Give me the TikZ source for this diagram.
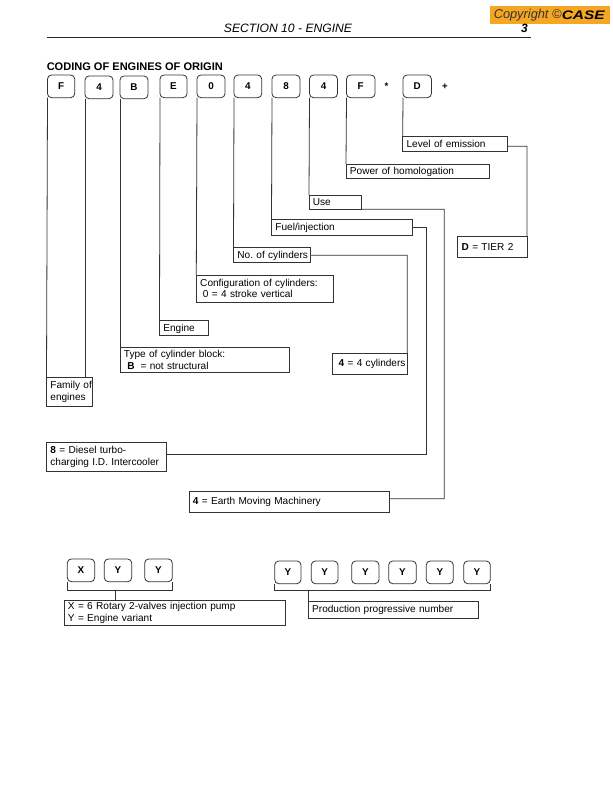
\documentclass[tikz,border=0pt]{standalone}
\usepackage{fontspec}
\setmainfont{Liberation Sans}
\usetikzlibrary{calc}
\frenchspacing
\newcommand{\lab}[7][labelbox]{%
  \node[#1,anchor=north west,minimum width={(#5-#3)*0.75pt},minimum height={(#6-#4)*0.75pt},text width={(#5-#3)*0.75pt-2*\labxsep}] (#2) at (#3,#4) {#7};}
\newcommand{\code}[5]{%
  \node[codebox,anchor=north west,minimum width={(#4-#3)*0.75pt},minimum height=17pt] (#1) at (#3,#2) {#5};}
\newcommand{\labxsep}{2.95pt}
\tikzset{
  x=0.75pt,y=-0.75pt,
  rule/.style={draw=black!80,line width=0.6pt},
  labelbox/.style={rule,inner xsep=\labxsep,inner ysep=0pt,outer sep=0pt,align=left,font=\fontsize{7.55}{8.7}\selectfont},
  lowtext/.style={labelbox,text depth=0.3pt},
  codebox/.style={rule,rounded corners=3pt,inner sep=0pt,outer sep=0pt,align=center,font=\fontsize{7.4}{8.7}\selectfont\bfseries},
  wire/.style={rule},
  mark text/.style={inner sep=0pt,font=\fontsize{7.2}{8.7}\selectfont\bfseries}
}
\begin{document}
\begin{tikzpicture}
\useasboundingbox (0,0) rectangle (613,792);
% header
\node[fill={rgb,255:red,245;green,166;blue,35},minimum width=90pt,minimum height=13.5pt,inner sep=0pt,anchor=north west] (badge) at (489.5,6) {};
\node[anchor=west,inner sep=0pt,font=\fontsize{9.6}{11}\selectfont\itshape,text=black!80] (copy) at (493.5,15) {Copyright ©};
\node[anchor=west,inner sep=0pt,font=\fontsize{9.3}{11}\selectfont\bfseries\itshape] (case) at (561.5,15.5) {\scalebox{1.25}[1]{CASE}};
\node[inner sep=0pt,font=\fontsize{9.1}{11}\selectfont\itshape] (section) at (288,28) {SECTION 10 - ENGINE};
\node[inner sep=0pt,font=\fontsize{9}{11}\selectfont\bfseries\itshape] (page) at (524.5,28.5) {3};
\coordinate (ruleL) at (47,37.5);
\coordinate (ruleR) at (530.5,37.5);
\draw[draw=black!85,line width=0.8pt] (ruleL) -- (ruleR);
\node[anchor=west,inner sep=0pt,font=\fontsize{8.28}{10}\selectfont\bfseries] (title) at (46.5,67) {CODING OF ENGINES OF ORIGIN};
% top code row
\code{cF}{75}{47.5}{74.7}{F}
\code{cA}{76}{85}{113}{4}
\code{cB}{76}{120}{148}{B}
\code{cE}{75}{160}{187}{E}
\code{cZ}{75}{197}{225}{0}
\code{cC}{75}{234}{261.7}{4}
\code{cH}{75}{272}{300}{8}
\code{cU}{75}{309.5}{337.5}{4}
\code{cP}{75}{346.5}{375}{F}
\code{cD}{75}{403}{431.4}{D}
\node[mark text] (star) at (386.6,86) {*};
\node[mark text] (plus) at (445,87) {+};
% labels
\lab{level}{402.7}{136}{507.3}{151.7}{Level of emission}
\lab[lowtext]{power}{346}{164}{489.3}{178.7}{Power of homologation}
\lab{use}{309}{195}{361.7}{209.3}{Use}
\lab[lowtext]{fuel}{271.5}{219.3}{412.7}{235.3}{Fuel/injection}
\lab[lowtext]{cyl}{233.5}{247.3}{310}{262.7}{\mbox{No. of cylinders}}
\lab{config}{196.3}{275}{333.7}{302}{Configuration of cylinders:\\[-0.4pt]\hspace*{2pt}0 = 4 stroke vertical}
\lab[lowtext]{engine}{159.5}{320.5}{208.3}{335.7}{Engine}
\lab{type}{120}{347}{289.3}{372.3}{Type of cylinder block:\\\hspace*{2.5pt}\textbf{B}\hspace{2pt} = not structural}
\lab{family}{46.5}{377.3}{92.3}{406.3}{\mbox{Family of}\\engines}
\lab{turbo}{46.5}{442.3}{166.7}{471.3}{\textbf{8} = Diesel turbo-\\charging I.D. Intercooler}
\lab{earth}{189}{491.7}{389}{512.3}{\textbf{4} = Earth Moving Machinery}
\lab{fourcyl}{332}{353.7}{407.3}{374.7}{\mbox{\hspace*{2pt}\textbf{4} = 4 cylinders}}
\lab{tier}{457.7}{236.7}{527}{257}{\textbf{D} = TIER 2}
% drops
\draw[wire] (cF.south west) -- (family.north west);
\draw[wire] (cA.south west) -- (cA.south west |- family.north);
\draw[wire] (cB.south west) -- (type.north west);
\draw[wire] (cE.south west) -- (engine.north west);
\draw[wire] (cZ.south west) -- (config.north west);
\draw[wire] (cC.south west) -- (cyl.north west);
\draw[wire] (cH.south west) -- (fuel.north west);
\draw[wire] (cU.south west) -- (use.north west);
\draw[wire] (cP.south west) -- (power.north west);
\draw[wire] (cD.south west) -- (level.north west);
% elbow connectors
\coordinate (levelTurn) at (527,146.3);
\coordinate (useTurn) at (444.3,209.3);
\coordinate (fuelTurn) at (426,227.3);
\coordinate (cylTurn) at (407.3,255.3);
\coordinate (turboIn) at ($(turbo.east)+(0,-2.5)$);
\coordinate (earthIn) at ($(earth.east)+(0,-3.3)$);
\draw[wire] (levelTurn -| level.east) -- (levelTurn) -- (tier.north east);
\draw[wire] (use.south east) -- (useTurn) -- (useTurn |- earthIn) -- (earthIn);
\draw[wire] (fuelTurn -| fuel.east) -- (fuelTurn) -- (fuelTurn |- turboIn) -- (turboIn);
\draw[wire] (cylTurn -| cyl.east) -- (cylTurn) -- (fourcyl.north east);
% lower groups
\code{lX}{559}{67.3}{94.7}{X}
\code{lY}{559}{104.3}{131.7}{Y}
\code{lZ}{559}{144.7}{172.3}{Y}
\code{rA}{561}{274.7}{301}{Y}
\code{rB}{561}{311.3}{338}{Y}
\code{rC}{561}{351.7}{379}{Y}
\code{rD}{561}{388.7}{416.3}{Y}
\code{rE}{561}{426.3}{453.3}{Y}
\code{rF}{561}{463.7}{490.3}{Y}
\lab{pump}{64}{600.3}{285.7}{625.3}{X = 6 Rotary 2-valves injection pump\\Y = Engine variant}
\lab{prod}{308.3}{601}{478}{618}{Production progressive number}
\coordinate (brL) at (115.7,590.7);
\coordinate (brR) at (308.3,590.7);
\draw[wire] (lX.south west) -- (lX.west |- brL) -- (lZ.east |- brL) -- (lZ.south east);
\draw[wire] (brL) -- (brL |- pump.north);
\draw[wire] (rA.south west) -- (rA.west |- brR) -- (rF.east |- brR) -- (rF.south east);
\draw[wire] (brR) -- (prod.north west);
\end{tikzpicture}
\end{document}
